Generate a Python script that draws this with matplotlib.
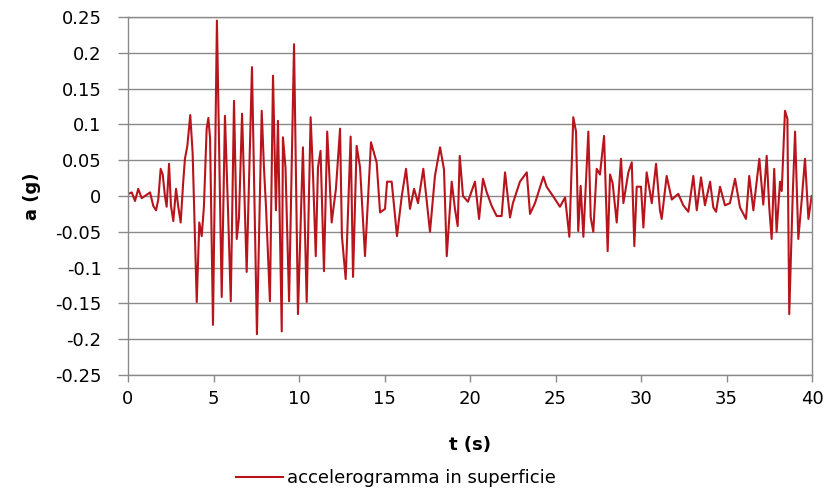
import matplotlib
matplotlib.use("Agg")
from matplotlib import pyplot as plt

plt.rcParams['font.family'] = ['DejaVu Sans']

# accelerogram: time (s) and acceleration (g)
t = [0.02, 0.22, 0.41, 0.60, 0.80, 0.99, 1.29, 1.48, 1.64, 1.77,
     1.91, 2.03, 2.16, 2.26, 2.40, 2.51, 2.65, 2.81, 2.94, 3.08,
     3.23, 3.33, 3.47, 3.64, 3.78, 4.02, 4.17, 4.31, 4.44, 4.60,
     4.70, 4.80, 4.97, 5.20, 5.48, 5.67, 5.85, 6.01, 6.20, 6.36,
     6.49, 6.67, 6.94, 7.25, 7.54, 7.82, 7.95, 8.07, 8.30, 8.48,
     8.65, 8.77, 8.99, 9.06, 9.21, 9.42, 9.71, 9.94, 10.23, 10.45,
     10.68, 10.82, 10.98, 11.11, 11.26, 11.46, 11.65, 11.91, 12.16, 12.40,
     12.51, 12.73, 13.02, 13.16, 13.37, 13.57, 13.86, 14.21, 14.54, 14.74,
     15.03, 15.15, 15.42, 15.73, 16.01, 16.26, 16.49, 16.73, 16.96, 17.27,
     17.66, 17.95, 18.25, 18.48, 18.64, 18.93, 19.12, 19.28, 19.40, 19.59,
     19.88, 20.29, 20.53, 20.76, 20.98, 21.27, 21.56, 21.85, 22.05, 22.34,
     22.51, 22.92, 23.32, 23.51, 23.80, 24.29, 24.48, 24.85, 25.26, 25.56,
     25.81, 26.04, 26.20, 26.33, 26.47, 26.63, 26.92, 27.06, 27.21, 27.41,
     27.60, 27.84, 28.05, 28.19, 28.34, 28.58, 28.83, 28.97, 29.26, 29.46,
     29.61, 29.75, 30.00, 30.14, 30.33, 30.63, 30.88, 31.11, 31.21, 31.50,
     31.80, 32.18, 32.47, 32.77, 33.06, 33.26, 33.51, 33.74, 34.04, 34.23,
     34.39, 34.62, 34.91, 35.20, 35.50, 35.79, 36.14, 36.33, 36.57, 36.92,
     37.15, 37.35, 37.50, 37.64, 37.79, 37.93, 38.13, 38.23, 38.42, 38.56,
     38.67, 38.87, 39.01, 39.20, 39.40, 39.59, 39.79, 39.98]
a = [0.003, 0.005, -0.007, 0.010, -0.003, 0.000, 0.005, -0.014, -0.020, -0.005,
     0.038, 0.030, 0.000, -0.015, 0.045, -0.013, -0.035, 0.010, -0.015, -0.037,
     0.020, 0.052, 0.070, 0.113, 0.060, -0.148, -0.037, -0.056, -0.015, 0.094,
     0.109, 0.080, -0.180, 0.245, -0.141, 0.112, -0.020, -0.147, 0.133, -0.060,
     -0.030, 0.115, -0.106, 0.180, -0.193, 0.119, 0.040, -0.015, -0.147, 0.168,
     -0.020, 0.105, -0.189, 0.082, 0.040, -0.147, 0.212, -0.165, 0.068, -0.148,
     0.110, 0.030, -0.084, 0.040, 0.063, -0.105, 0.090, -0.037, 0.010, 0.094,
     -0.056, -0.116, 0.083, -0.113, 0.070, 0.040, -0.084, 0.075, 0.047, -0.023,
     -0.018, 0.020, 0.020, -0.056, 0.000, 0.038, -0.018, 0.010, -0.010, 0.038,
     -0.050, 0.028, 0.068, 0.037, -0.084, 0.020, -0.018, -0.042, 0.056, 0.000,
     -0.008, 0.020, -0.032, 0.024, 0.005, -0.014, -0.028, -0.028, 0.033, -0.030,
     -0.010, 0.020, 0.033, -0.025, -0.010, 0.027, 0.013, 0.000, -0.015, -0.002,
     -0.057, 0.110, 0.090, -0.049, 0.014, -0.057, 0.090, -0.030, -0.050, 0.038,
     0.030, 0.084, -0.077, 0.030, 0.018, -0.037, 0.052, -0.010, 0.033, 0.047,
     -0.070, 0.013, 0.013, -0.044, 0.033, -0.010, 0.045, -0.020, -0.032, 0.028,
     -0.005, 0.003, -0.013, -0.022, 0.028, -0.020, 0.026, -0.013, 0.020, -0.016,
     -0.022, 0.013, -0.013, -0.010, 0.024, -0.016, -0.032, 0.028, -0.020, 0.052,
     -0.012, 0.056, -0.016, -0.060, 0.038, -0.050, 0.020, 0.007, 0.119, 0.108,
     -0.165, 0.000, 0.090, -0.060, -0.005, 0.052, -0.032, 0.000]

x_ticks = [0, 5, 10, 15, 20, 25, 30, 35, 40]
y_ticks = [0.25, 0.2, 0.15, 0.1, 0.05, 0, -0.05, -0.1, -0.15, -0.2, -0.25]
y_labels = ['0.25', '0.2', '0.15', '0.1', '0.05', '0', '-0.05', '-0.1', '-0.15', '-0.2', '-0.25']

grey = '#8a8a8a'

fig = plt.figure(figsize=(8.33, 4.98), dpi=100)
ax = fig.add_axes([128 / 833, 1 - 375 / 498, (812 - 128) / 833, (375 - 17) / 498])

ax.plot(t, a, color='#b8141c', linewidth=1.5, label='accelerogramma in superficie')

ax.set_xlim(0, 40)
ax.set_ylim(-0.25, 0.25)
ax.set_xticks(x_ticks)
ax.set_yticks(y_ticks)
ax.set_yticklabels(y_labels)
ax.yaxis.grid(True, color=grey, linewidth=1.0)
ax.set_axisbelow(True)
for side in ax.spines:
    ax.spines[side].set_color(grey)
    ax.spines[side].set_linewidth(1.0)

ax.tick_params(axis='both', colors=grey, labelcolor='black', labelsize=13, width=1.0)
ax.tick_params(axis='y', length=7, pad=12)
ax.tick_params(axis='x', length=5, pad=6)

ax.set_xlabel('t (s)', fontsize=13, fontweight='bold', labelpad=20)
ax.set_ylabel('a (g)', fontsize=13, fontweight='bold', labelpad=10)

fig.legend(loc='center', bbox_to_anchor=(396 / 833, 1 - 478 / 498), frameon=False,
           fontsize=13, handlelength=2.6, handletextpad=0.25)

fig.savefig('out.png', dpi=100)
